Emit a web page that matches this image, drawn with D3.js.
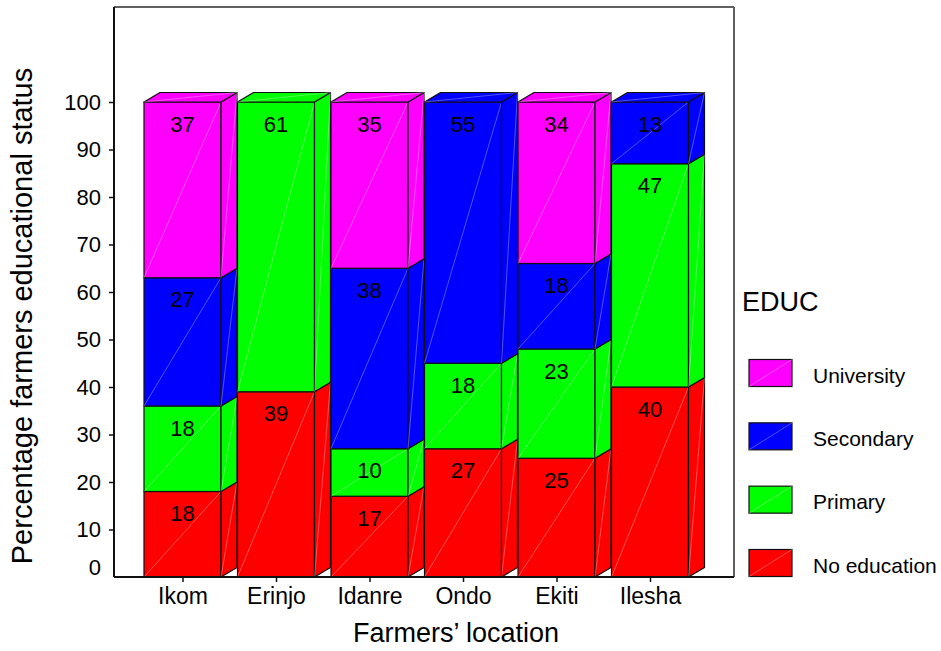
<!DOCTYPE html>
<html>
<head>
<meta charset="utf-8">
<script src="https://cdn.jsdelivr.net/npm/d3@7"></script>
<style>
  body { margin: 0; background: #fff; }
  text { font-family: Arial, "Liberation Sans", sans-serif; fill: #000; }
</style>
</head>
<body>
<svg id="chart" width="941" height="651"></svg>
<script>
// Farmers' educational status by location (percent of farmers)
const locations = ["Ikom", "Erinjo", "Idanre", "Ondo", "Ekiti", "Ilesha"];
const levels = ["No education", "Primary", "Secondary", "University"];
const noEducation = [18, 39, 17, 27, 25, 40];
const primary     = [18, 61, 10, 18, 23, 47];
const secondary   = [27,  0, 38, 55, 18, 13];
const university  = [37,  0, 35,  0, 34,  0];
const levelColors = ["#ff0000", "#00ff00", "#0000ff", "#ff00ff"];
const yTicks = [0, 10, 20, 30, 40, 50, 60, 70, 80, 90, 100];

const rows = locations.map((loc, i) => ({
  location: loc,
  "No education": noEducation[i],
  "Primary": primary[i],
  "Secondary": secondary[i],
  "University": university[i]
}));
const series = d3.stack().keys(levels)(rows);
const color = d3.scaleOrdinal(levels, levelColors);

const svg = d3.select("#chart");
const plotLeft = 114, plotRight = 734, plotTop = 7, plotBottom = 577;

const y = d3.scaleLinear().domain([0, 100]).range([plotBottom, 102]);
const x = d3.scalePoint().domain(locations).range([182.5, 650]);

const halfW = 38.5;      // half width of the bar's front face
const dx = 16, dy = 9.5; // depth offset of the 3D faces
const edge = "#111";
const edgeW = 1.2;
const sheen = "rgba(255,255,255,0.4)";

// plot frame (top / right)
svg.append("line").attr("x1", plotLeft).attr("x2", plotRight).attr("y1", plotTop).attr("y2", plotTop)
  .attr("stroke", "#606060").attr("stroke-width", 2);
svg.append("line").attr("x1", plotRight).attr("x2", plotRight).attr("y1", plotTop).attr("y2", plotBottom)
  .attr("stroke", "#606060").attr("stroke-width", 2);

// bars
const bars = svg.append("g");
locations.forEach((loc, i) => {
  const cx = x(loc);
  const x0 = cx - halfW, x1 = cx + halfW;
  const segs = series.map(s => ({ key: s.key, lo: s[i][0], hi: s[i][1] }))
    .filter(d => d.hi - d.lo > 0);
  const g = bars.append("g");
  segs.forEach((d, k) => {
    const yl = y(d.lo), yh = y(d.hi);
    const fill = color(d.key);
    // front face
    g.append("rect").attr("x", x0).attr("y", yh).attr("width", x1 - x0).attr("height", yl - yh)
      .attr("fill", fill).attr("stroke", edge).attr("stroke-width", edgeW);
    g.append("line").attr("x1", x0).attr("y1", yl).attr("x2", x1).attr("y2", yh)
      .attr("stroke", sheen).attr("stroke-width", 0.8);
    // side face
    const side = [[x1, yl], [x1 + dx, yl - dy], [x1 + dx, yh - dy], [x1, yh]];
    g.append("polygon").attr("points", side.map(p => p.join(",")).join(" "))
      .attr("fill", fill).attr("stroke", edge).attr("stroke-width", edgeW).attr("stroke-linejoin", "round");
    g.append("line").attr("x1", x1).attr("y1", yl).attr("x2", x1 + dx).attr("y2", yh - dy)
      .attr("stroke", sheen).attr("stroke-width", 0.8);
    // top face on the uppermost segment
    if (k === segs.length - 1) {
      const tp = [[x0, yh], [x1, yh], [x1 + dx, yh - dy], [x0 + dx, yh - dy]];
      g.append("polygon").attr("points", tp.map(p => p.join(",")).join(" "))
        .attr("fill", fill).attr("stroke", edge).attr("stroke-width", edgeW).attr("stroke-linejoin", "round");
      g.append("line").attr("x1", x0).attr("y1", yh).attr("x2", x1 + dx).attr("y2", yh - dy)
        .attr("stroke", sheen).attr("stroke-width", 0.8);
    }
    // value label
    g.append("text").attr("x", cx).attr("y", yh + 22)
      .attr("text-anchor", "middle").attr("dominant-baseline", "central")
      .attr("font-size", 22).text(d3.format("d")(d.hi - d.lo));
  });
});

// y axis
const yAxis = svg.append("g").attr("transform", `translate(${plotLeft},0)`)
  .call(d3.axisLeft(y).tickValues(yTicks).tickSize(5).tickPadding(8).tickFormat(d3.format("d")));
yAxis.select(".domain").attr("stroke", edge).attr("stroke-width", 2)
  .attr("d", `M0,${plotTop}V${plotBottom}`);
yAxis.selectAll(".tick line").attr("stroke", edge).attr("stroke-width", 1.5);
yAxis.selectAll(".tick text").attr("font-size", 22).attr("fill", "#000")
  .style("font-family", 'Arial, "Liberation Sans", sans-serif');
yAxis.selectAll(".tick").filter(d => d === 0).each(function () {
  d3.select(this).select("line").remove();
  d3.select(this).select("text").attr("y", -10);
});

// x axis
const xAxis = svg.append("g").attr("transform", `translate(0,${plotBottom})`)
  .call(d3.axisBottom(x).tickSize(5).tickPadding(6));
xAxis.select(".domain").attr("stroke", edge).attr("stroke-width", 2)
  .attr("d", `M${plotLeft},0H${plotRight}`);
xAxis.selectAll(".tick line").attr("stroke", edge).attr("stroke-width", 1.5);
xAxis.selectAll(".tick text").attr("font-size", 23).attr("fill", "#000")
  .style("font-family", 'Arial, "Liberation Sans", sans-serif');

// axis titles
svg.append("text").attr("x", 456).attr("y", 642).attr("text-anchor", "middle")
  .attr("font-size", 27).text("Farmers’ location");
svg.append("text").attr("transform", "translate(32,316) rotate(-90)")
  .attr("text-anchor", "middle").attr("font-size", 29)
  .text("Percentage farmers educational status");

// legend
const legend = svg.append("g");
legend.append("text").attr("x", 742).attr("y", 302).attr("dominant-baseline", "central")
  .attr("font-size", 27).text("EDUC");
const legendOrder = levels.slice().reverse();
const legendY = d3.scalePoint().domain(legendOrder).range([373, 563]);
legendOrder.forEach(key => {
  const cy = legendY(key);
  legend.append("rect").attr("x", 749).attr("y", cy - 13.5).attr("width", 43).attr("height", 27)
    .attr("fill", color(key)).attr("stroke", edge).attr("stroke-width", edgeW);
  legend.append("line").attr("x1", 749).attr("y1", cy + 13.5).attr("x2", 792).attr("y2", cy - 13.5)
    .attr("stroke", sheen).attr("stroke-width", 0.8);
  legend.append("text").attr("x", 813).attr("y", cy + 2).attr("dominant-baseline", "central")
    .attr("font-size", 21).text(key);
});
</script>
</body>
</html>
